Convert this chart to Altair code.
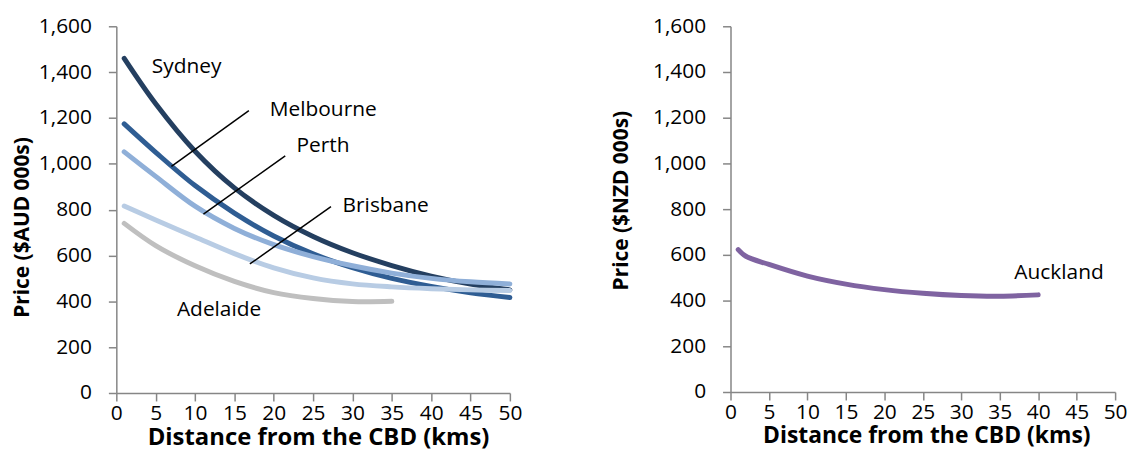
import altair as alt
import pandas as pd

# distance from the CBD (kms)
distances = [1, 5, 10, 15, 20, 25, 30, 35, 40, 45, 50]
sydney = [1460, 1262, 1055, 895, 775, 683, 612, 556, 510, 475, 450]
melbourne = [1174, 1050, 905, 785, 685, 607, 547, 500, 465, 437, 417]
perth = [1052, 945, 815, 718, 647, 595, 555, 523, 500, 485, 476]
brisbane = [816, 755, 681, 608, 546, 502, 476, 463, 455, 450, 447]
adelaide_dist = [1, 5, 10, 15, 20, 25, 30, 35]
adelaide = [740, 643, 555, 487, 438, 412, 399, 400]

auckland_dist = [1, 2, 5, 10, 15, 20, 25, 30, 35, 40]
auckland = [623, 594, 558, 507, 472, 448, 432, 422, 419, 425]

aus_cities = ["Sydney", "Melbourne", "Perth", "Brisbane", "Adelaide"]
aus_colors = ["#243F60", "#2F5D93", "#8FAFD8", "#B8CCE4", "#BFBFBF"]

# label positions (distance, price)
label_x = [4.5, 19.5, 22.9, 28.75, 7.7]
label_y = [1420, 1233, 1077, 816, 360]

# leader lines: start / end points
leader_x = [16.84, 21.46, 27.27]
leader_y = [1232, 1035, 813]
leader_x2 = [7.0, 11.07, 16.97]
leader_y2 = [989, 780, 563]

FONT = "Open Sans"
AXIS_GREY = "#868686"

rows = []
for city, vals in zip(aus_cities[:4], [sydney, melbourne, perth, brisbane]):
    for d, v in zip(distances, vals):
        rows.append({"city": city, "dist": d, "price": v})
for d, v in zip(adelaide_dist, adelaide):
    rows.append({"city": "Adelaide", "dist": d, "price": v})
aus = pd.DataFrame(rows)

nz = pd.DataFrame({"city": "Auckland", "dist": auckland_dist, "price": auckland})

labels = pd.DataFrame({"city": aus_cities, "dist": label_x, "price": label_y})
leaders = pd.DataFrame(
    {"dist": leader_x, "price": leader_y, "dist2": leader_x2, "price2": leader_y2}
)


def configure_x_axis(title_x, title_size):
    return alt.X(
        "dist:Q",
        scale=alt.Scale(domain=[0, 50], nice=False),
        axis=alt.Axis(
            values=list(range(0, 55, 5)),
            labelOverlap=False,
            labelFlush=False,
            title="Distance from the CBD (kms)",
            titleX=title_x,
            titleFontSize=title_size,
        ),
    )


def configure_y_axis(title, title_y, title_padding):
    return alt.Y(
        "price:Q",
        scale=alt.Scale(domain=[0, 1600], nice=False),
        axis=alt.Axis(
            values=list(range(0, 1800, 200)),
            format=",.0f",
            labelOverlap=False,
            title=title,
            titleY=title_y,
            titlePadding=title_padding,
        ),
    )


def city_labels(frame, x, y):
    return alt.Chart(frame).mark_text(
        align="left", baseline="middle", font=FONT, fontSize=21, color="black"
    ).encode(x=x, y=y, text="city:N")


# every layer of a panel carries the same axis, so the merged axis keeps its ticks
left_x = configure_x_axis(203, 24)
left_y = configure_y_axis("Price ($AUD 000s)", 202, 6)

left_lines = alt.Chart(aus).mark_line(
    strokeWidth=5, strokeCap="round", interpolate="catmull-rom"
).encode(
    x=left_x,
    y=left_y,
    color=alt.Color(
        "city:N",
        scale=alt.Scale(domain=aus_cities, range=aus_colors),
        legend=None,
    ),
    detail="city:N",
)

left_rules = alt.Chart(leaders).mark_rule(color="black", strokeWidth=1.5).encode(
    x=left_x, y=left_y, x2="dist2:Q", y2="price2:Q"
)

left = alt.layer(left_lines, left_rules, city_labels(labels, left_x, left_y)).properties(
    width=396, height=369
)

right_x = configure_x_axis(197, 23)
right_y = configure_y_axis("Price ($NZD 000s)", 175, 21)

right_line = alt.Chart(nz).mark_line(
    strokeWidth=5, strokeCap="round", interpolate="catmull-rom", color="#7F63A1"
).encode(x=right_x, y=right_y)

auck_label = pd.DataFrame({"city": ["Auckland"], "dist": [36.9], "price": [519]})

right = alt.layer(right_line, city_labels(auck_label, right_x, right_y)).properties(
    width=387, height=368
)

chart = (
    alt.hconcat(left, right, spacing=88)
    .properties(padding={"left": 3, "top": 6, "right": 5, "bottom": 5})
    .configure_view(stroke=None)
    .configure_axis(
        grid=False,
        domainColor=AXIS_GREY,
        domainWidth=1.5,
        tickColor=AXIS_GREY,
        tickWidth=1.5,
        tickSize=8,
        labelFont=FONT,
        labelFontSize=21,
        labelColor="black",
        titleFont=FONT,
        titleFontSize=21,
        titleFontWeight="bold",
        titleColor="black",
    )
    .configure_axisY(labelPadding=17)
    .configure_axisX(labelPadding=2, titlePadding=2)
)

chart.save("out.html", embed_options={"renderer": "svg", "actions": False})
